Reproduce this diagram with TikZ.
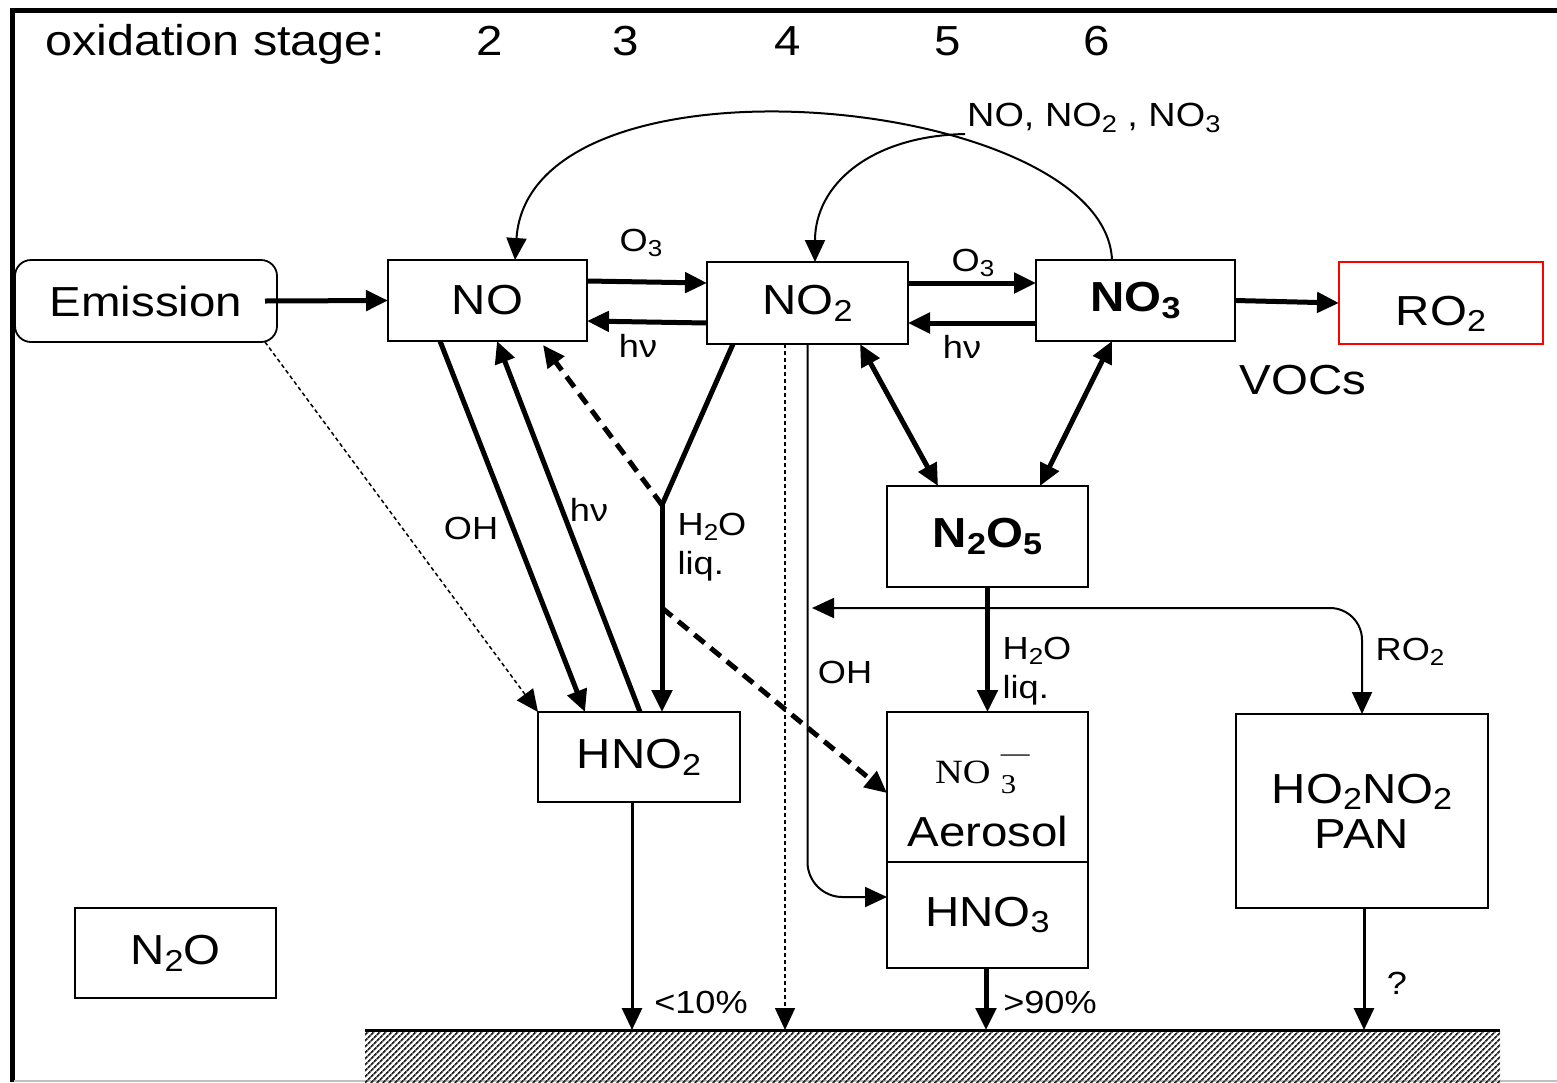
\documentclass[tikz,border=0pt]{standalone}
\usepackage{fontspec}
\setmainfont{Liberation Sans}[FakeStretch=1.13]
\newfontfamily\serfam{Liberation Serif}[FakeStretch=1.13]
\usetikzlibrary{arrows.meta,patterns,patterns.meta,calc}
\newcommand\fbig{\fontsize{42}{44}\selectfont}
\newcommand\fsm{\fontsize{32}{38}\selectfont}
\newcommand\lo[1]{\raisebox{-0.16em}{\scalebox{0.72}{#1}}}
\begin{document}
\begin{tikzpicture}[x=1pt,y=-1pt,
  >={Triangle[length=22pt,width=20pt]},
  box/.style={draw,line width=1.8pt,fill=white,inner sep=0pt,outer sep=0pt,font=\fbig},
  lbl/.style={font=\fsm,inner sep=0pt},
  tk/.style={line width=5pt,->},
  md/.style={line width=3pt,->},
  thn/.style={line width=2pt,->},
  dsh/.style={line width=5pt,->,dash pattern=on 13pt off 8pt},
  dot/.style={line width=1.5pt,->,dash pattern=on 4pt off 3pt}]
\useasboundingbox (0,0) rectangle (1557,1082);
% frame
\draw[line width=5pt,line join=miter] (12,1082) -- (12,10) -- (1557,10);
\draw[gray!50,line width=2pt] (14,1080.5) -- (1557,1080.5);
% ground
\coordinate (gl) at (365,1030);
\coordinate (gr) at (1500,1030);
\fill[pattern={Lines[angle=45,distance=4pt,line width=1.8pt]},pattern color=black!85] (365,1030) rectangle (1500,1082);
\draw[line width=3pt] (gl) -- (gr);
% header
\node[font=\fontsize{43}{46}\selectfont,anchor=base west,inner sep=0pt] (hdr) at (45,55) {oxidation stage:};
\node[font=\fbig,anchor=base,inner sep=0pt] (s2) at (490,55) {2};
\node[font=\fbig,anchor=base,inner sep=0pt] (s3) at (626,55) {3};
\node[font=\fbig,anchor=base,inner sep=0pt] (s4) at (788,55) {4};
\node[font=\fbig,anchor=base,inner sep=0pt] (s5) at (948,55) {5};
\node[font=\fbig,anchor=base,inner sep=0pt] (s6) at (1097,55) {6};
% boxes
\node[box,rounded corners=16pt,minimum width=262pt,minimum height=82pt] (em) at (146,301) {Emission};
\node[box,minimum width=199pt,minimum height=81pt] (no) at (487.5,300.5) {NO};
\node[box,minimum width=201pt,minimum height=82pt] (no2) at (807.5,303) {NO\lo{2}};
\node[box,minimum width=199pt,minimum height=81pt] (no3) at (1135.5,300.5) {\textbf{NO\lo{3}}};
\node[box,draw=red,minimum width=204pt,minimum height=82pt] (ro2) at (1441,303) {};
\node[box,minimum width=201pt,minimum height=101pt] (n2o5) at (987.5,536.5) {\textbf{N\lo{2}O\lo{5}}};
\node[box,minimum width=202pt,minimum height=90pt] (hno2) at (639,757) {HNO\lo{2}};
\node[box,minimum width=201pt,minimum height=150pt] (aer) at (987.5,787) {};
\node[box,minimum width=201pt,minimum height=106pt] (hno3) at (987.5,915) {HNO\lo{3}};
\node[box,minimum width=252pt,minimum height=194pt,align=center,font=\fontsize{42}{45}\selectfont] (pan) at (1362,811) {HO\lo{2}NO\lo{2}\\PAN};
\node[box,minimum width=201pt,minimum height=90pt] (n2o) at (175.5,953) {N\lo{2}O};
% texts
\node[font=\fbig,inner sep=0pt,anchor=base] (ro2t) at (1441,325) {RO\lo{2}};
\node[font=\fbig,inner sep=0pt] (voc) at (1303,380) {VOCs};
\node[font=\serfam\fontsize{34}{36}\selectfont,inner sep=0pt,anchor=base west] (nom) at (935,783) {NO\hspace{0.3em}\rlap{\raisebox{0.62em}{\scalebox{0.75}{—}}}\raisebox{-0.3em}{\scalebox{0.8}{3}}};
\node[font=\fbig,inner sep=0pt] (aert) at (988,831) {Aerosol};
% labels
\node[lbl] (lo3a) at (641,243) {O\lo{3}};
\node[lbl] (lhva) at (638,346) {hν};
\node[lbl] (lo3b) at (973,263) {O\lo{3}};
\node[lbl] (lhvb) at (962,347) {hν};
\node[lbl,anchor=west,font=\fontsize{33.5}{38}\selectfont] (lnox) at (967,118) {NO, NO\lo{2} , NO\lo{3}};
\node[lbl] (loha) at (471,528) {OH};
\node[lbl] (lhvc) at (589,510) {hν};
\node[lbl,align=left,font=\fontsize{32}{39}\selectfont] (lh2oa) at (712,547) {H\lo{2}O\\liq.};
\node[lbl] (lohb) at (845,672) {OH};
\node[lbl,align=left,font=\fontsize{32}{39}\selectfont] (lh2ob) at (1037,671) {H\lo{2}O\\liq.};
\node[lbl] (lro2) at (1410,652) {RO\lo{2}};
\node[lbl] (l10) at (701,1002) {<10\%};
\node[lbl] (l90) at (1050,1002) {>90\%};
\node[lbl] (lq) at (1397,983) {?};
% connectors
\draw[tk] ([xshift=-12pt]em.east) -- (no.west);
\draw[dot] ([xshift=-12pt]em.south east) -- (hno2.north west);
\draw[tk] (no.east |- 0,281) -- (no2.west |- 0,283);
\draw[tk] (no2.west |- 0,323) -- (no.east |- 0,321);
\draw[tk] (no2.east |- 0,283) -- (no3.west |- 0,283);
\draw[tk] (no3.west |- 0,323) -- (no2.east |- 0,323);
\draw[tk] (no3.east) -- (ro2.west);
\coordinate (aj) at (965,134);
\draw[thn] (1112,0 |- no3.north) .. controls (1105,95) and (530,40) .. (515,0 |- no.north);
\draw[thn] (aj) .. controls (870,136) and (815,185) .. (815,0 |- no2.north);
\draw[tk] (440,0 |- no.south) -- (585,0 |- hno2.north);
\draw[tk] (640,0 |- hno2.north) -- (497,0 |- no.south);
\coordinate (j1) at (662,505);
\coordinate (j2) at (662,608);
\draw[line width=5pt] (733,0 |- no2.south) -- (j1);
\draw[tk] (j1) -- (662,0 |- hno2.north);
\draw[dsh] (j1) -- (543,345);
\draw[dsh] (j2) -- (aer.west |- 0,793);
\draw[dot] (785,0 |- no2.south) -- (785,0 |- gl);
\draw[thn,rounded corners=35pt] (no2.south) |- (hno3.west |- 0,897);
\coordinate (ohp) at (812,608);
\draw[thn,<->,rounded corners=32pt] (ohp) -| (pan.north);
\draw[tk,<->] (860,0 |- no2.south) -- (938,0 |- n2o5.north);
\draw[tk,<->] (1112,0 |- no3.south) -- (1040,0 |- n2o5.north);
\draw[tk] (n2o5.south) -- (aer.north);
\draw[md] (632,0 |- hno2.south) -- (632,0 |- gl);
\draw[tk] (986,0 |- hno3.south) -- (986,0 |- gl);
\draw[md] (1364,0 |- pan.south) -- (1364,0 |- gl);
\end{tikzpicture}
\end{document}
